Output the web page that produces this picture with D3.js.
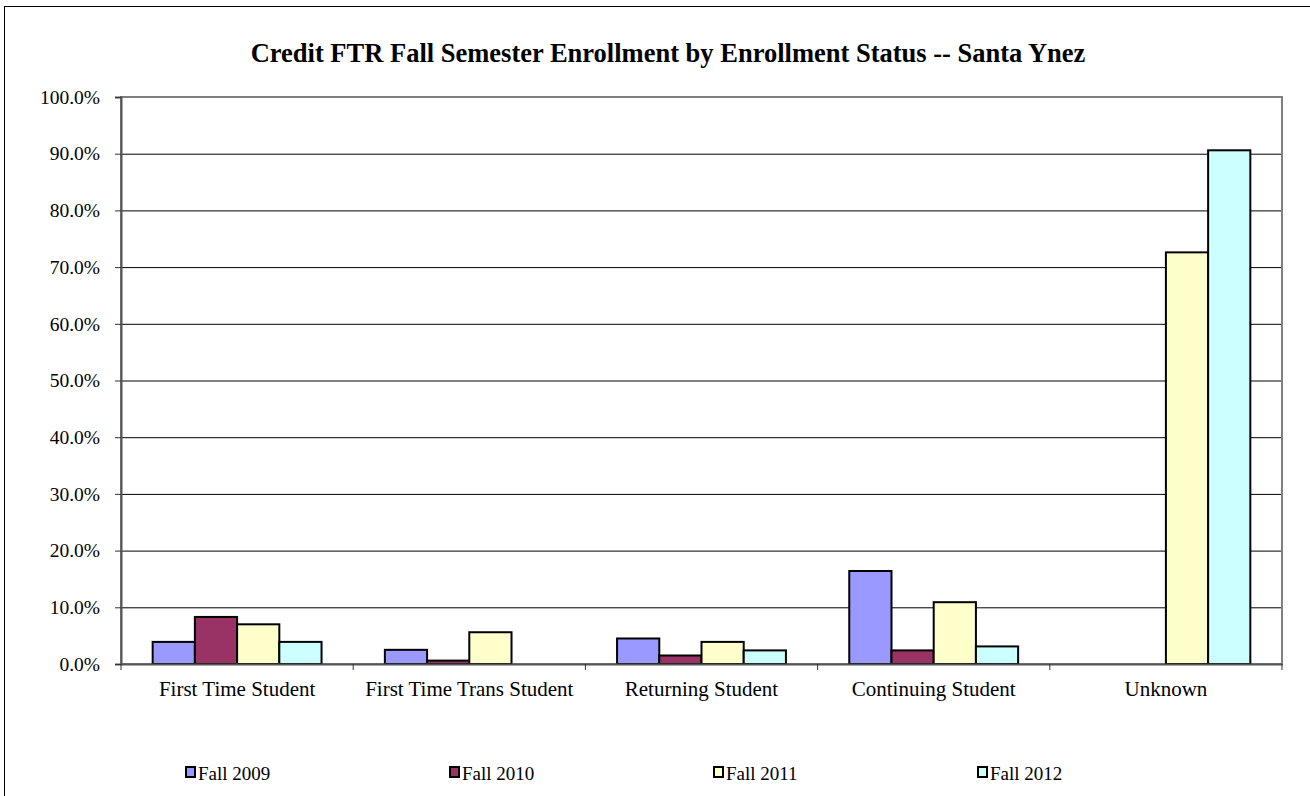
<!DOCTYPE html>
<html>
<head>
<meta charset="utf-8">
<script src="https://cdn.jsdelivr.net/npm/d3@7"></script>
<style>
  body { margin: 0; background: #fff; }
  svg { display: block; }
  svg text { font-family: "Liberation Serif", "Times New Roman", serif; fill: #000; }
</style>
</head>
<body>
<div id="chart"></div>
<script>
var categories = ["First Time Student", "First Time Trans Student", "Returning Student", "Continuing Student", "Unknown"];
var seriesNames = ["Fall 2009", "Fall 2010", "Fall 2011", "Fall 2012"];
var fall2009 = [3.9, 2.5, 4.5, 16.4, 0];
var fall2010 = [8.3, 0.6, 1.5, 2.4, 0];
var fall2011 = [7.0, 5.6, 3.9, 10.9, 72.6];
var fall2012 = [3.9, 0, 2.4, 3.1, 90.6];
var yTicks = [0, 10, 20, 30, 40, 50, 60, 70, 80, 90, 100];
var colors = ["#9999ff", "#993366", "#ffffcc", "#ccffff"];

var allSeries = [fall2009, fall2010, fall2011, fall2012];

var width = 1310, height = 796;
var plot = {left: 121, right: 1282, top: 97, bottom: 664};

var svg = d3.select("#chart").append("svg")
  .attr("width", width)
  .attr("height", height);

// outer frame (only left / top edges fall inside the page)
svg.append("rect")
  .attr("x", 4.5).attr("y", 6.5)
  .attr("width", 1320).attr("height", 800)
  .attr("fill", "#fff")
  .attr("stroke", "#000")
  .attr("stroke-width", 1);

svg.append("text")
  .attr("x", 668).attr("y", 62)
  .attr("text-anchor", "middle")
  .style("font-size", "26.5px")
  .style("font-weight", "bold")
  .text("Credit FTR Fall Semester Enrollment by Enrollment Status -- Santa Ynez");

var x0 = d3.scaleBand().domain(categories).range([plot.left, plot.right]);
var x1 = d3.scaleBand().domain(seriesNames)
  .range([0, x0.bandwidth()])
  .paddingInner(0).paddingOuter(0.75);
var y = d3.scaleLinear().domain([0, 100]).range([plot.bottom, plot.top]);

// gridlines
svg.append("g").selectAll("line")
  .data(yTicks.filter(function(d){ return d > 0 && d < 100; }))
  .enter().append("line")
  .attr("x1", plot.left).attr("x2", plot.right)
  .attr("y1", function(d){ return y(d) + 0.5; })
  .attr("y2", function(d){ return y(d) + 0.5; })
  .attr("stroke", "#000").attr("stroke-width", 1);

// plot border
svg.append("rect")
  .attr("x", plot.left).attr("y", plot.top)
  .attr("width", plot.right - plot.left)
  .attr("height", plot.bottom - plot.top)
  .attr("fill", "none")
  .attr("stroke", "#808080").attr("stroke-width", 2);

// bars
var groups = svg.append("g").selectAll("g")
  .data(categories)
  .enter().append("g")
  .attr("transform", function(d){ return "translate(" + x0(d) + ",0)"; });

groups.selectAll("rect")
  .data(function(c, ci){
    return seriesNames.map(function(s, si){ return {s: s, v: allSeries[si][ci], i: si}; });
  })
  .enter().filter(function(d){ return d.v > 0; })
  .append("rect")
  .attr("x", function(d){ return x1(d.s); })
  .attr("y", function(d){ return y(d.v); })
  .attr("width", x1.bandwidth())
  .attr("height", function(d){ return y(0) - y(d.v); })
  .attr("fill", function(d){ return colors[d.i]; })
  .attr("stroke", "#000").attr("stroke-width", 2);

// y axis
var yAxis = d3.axisLeft(y)
  .tickValues(yTicks)
  .tickSize(6)
  .tickPadding(15)
  .tickFormat(function(d){ return d.toFixed(1) + "%"; });
var yg = svg.append("g")
  .attr("transform", "translate(" + plot.left + ",0)")
  .call(yAxis);
yg.select(".domain").attr("stroke", "#555").attr("stroke-width", 2);
yg.selectAll(".tick line").attr("stroke", "#333");
yg.selectAll("text").style("font-size", "19.5px");

// x axis
var xAxis = d3.axisBottom(x0).tickSize(0).tickPadding(0);
var xg = svg.append("g")
  .attr("transform", "translate(0," + plot.bottom + ")")
  .call(xAxis);
xg.select(".domain").attr("stroke", "#555").attr("stroke-width", 2);
xg.selectAll("text")
  .attr("dy", null).attr("y", 32)
  .style("font-size", "21px");
xg.selectAll(".bound")
  .data(categories.map(function(c){ return x0(c); }).concat([plot.right]))
  .enter().append("line")
  .attr("class", "bound")
  .attr("x1", function(d){ return d; }).attr("x2", function(d){ return d; })
  .attr("y1", 0).attr("y2", 6)
  .attr("stroke", "#333");

// legend
var legend = svg.append("g").selectAll("g")
  .data(seriesNames)
  .enter().append("g")
  .attr("transform", function(d, i){ return "translate(" + (186 + i * 264) + ",767)"; });
legend.append("rect")
  .attr("width", 9).attr("height", 10)
  .attr("fill", function(d, i){ return colors[i]; })
  .attr("stroke", "#000").attr("stroke-width", 2);
legend.append("text")
  .attr("x", 12).attr("y", 13)
  .style("font-size", "19px")
  .text(function(d){ return d; });
</script>
</body>
</html>
